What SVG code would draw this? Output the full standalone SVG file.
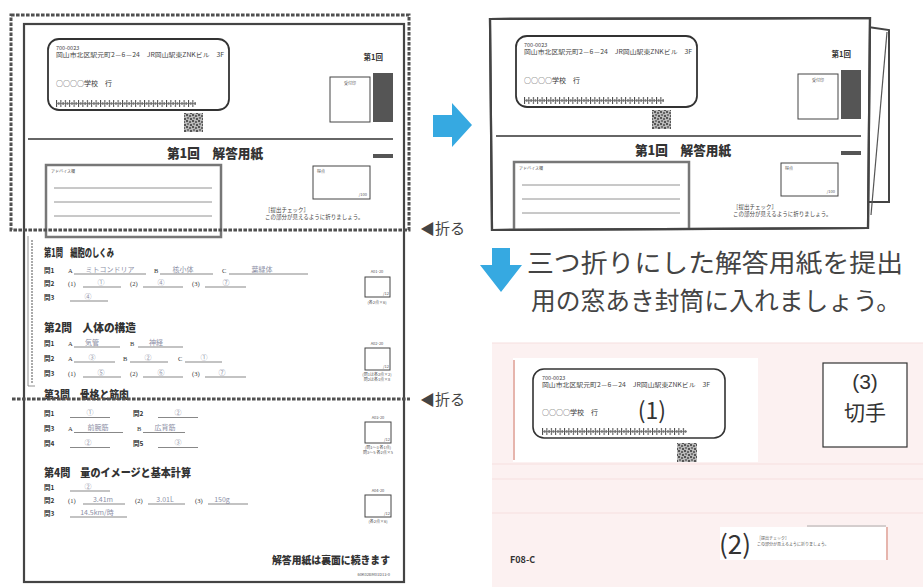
<svg xmlns="http://www.w3.org/2000/svg" xmlns:xlink="http://www.w3.org/1999/xlink" width="923" height="587" viewBox="0 0 923 587">
<style>
text{font-family:"Noto Sans CJK JP","Noto Sans",sans-serif}
.s4{font-size:4px;fill:#555}
.s5{font-size:5.5px;fill:#444}
.s7{font-size:7px;fill:#333}
.b7{font-size:7.5px;font-weight:bold;fill:#333}
.ttl{font-size:13px;font-weight:900;fill:#333}
.sec{font-size:11px;font-weight:900;fill:#333}
.q{font-size:6.5px;font-weight:bold;fill:#333}
.lab{font-size:6.5px;fill:#333;font-family:"Liberation Serif",serif}
.hw{font-size:7px;fill:#8c8fa6}
.ul{stroke:#555;stroke-width:0.7}
.sb{fill:none;stroke:#444;stroke-width:1}
.cap{font-size:25.5px;fill:#444}
.fold{font-size:15px;fill:#444}
.big{font-size:21px;fill:#333;font-family:"Liberation Sans","Noto Sans CJK JP",sans-serif}
.blue{fill:#36a9e1}
.dash{fill:none;stroke:#505050;stroke-width:3;stroke-dasharray:3.6 1.4}
</style>
<defs>
<pattern id="bc" width="4.4" height="7" patternUnits="userSpaceOnUse">
<rect x="0" y="0" width="1" height="7" fill="#444"/>
<rect x="2.2" y="2" width="1" height="3" fill="#444"/>
<rect x="0" y="3" width="4.4" height="0.7" fill="#666"/>
</pattern>
<pattern id="qr" width="6" height="6" patternUnits="userSpaceOnUse">
<rect width="6" height="6" fill="#b8b8b8"/>
<rect x="0" y="0" width="2" height="2" fill="#555"/>
<rect x="3" y="1" width="2" height="2" fill="#666"/>
<rect x="1" y="3" width="2" height="2" fill="#777"/>
<rect x="4" y="4" width="2" height="2" fill="#555"/>
</pattern>
<clipPath id="clipR"><polygon points="490,19 870,18 868,228 492,230"/></clipPath>
<g id="sheet-top">
<rect x="48" y="39" width="181" height="71" rx="11" fill="none" stroke="#333" stroke-width="1.8"/>
<text x="56" y="50" class="s5">700-0023</text>
<text x="56" y="57" class="s5" textLength="168" lengthAdjust="spacingAndGlyphs">岡山市北区駅元町2－6－24　JR岡山駅東ZNKビル　3F</text>
<text x="56" y="86" class="s7">○○○○学校　行</text>
<g transform="translate(56,100)"><rect width="140" height="7" fill="url(#bc)"/></g>
<rect x="184" y="113" width="19" height="19" fill="url(#qr)"/>
<text x="383" y="60" class="b7" text-anchor="end">第1回</text>
<rect x="330" y="77" width="40" height="45" class="sb"/>
<text x="350" y="85" class="s4" text-anchor="middle">受付印</text>
<rect x="373" y="73" width="20" height="49" fill="#555"/>
<line x1="28" y1="139" x2="393" y2="139" stroke="#333" stroke-width="1.5"/>
<text x="167" y="158" class="ttl" textLength="96" lengthAdjust="spacingAndGlyphs">第1回　解答用紙</text>
<rect x="373" y="154" width="20" height="4" fill="#555"/>
<rect x="46" y="165" width="175" height="72" fill="none" stroke="#777" stroke-width="2.5"/>
<text x="51" y="173" class="s4">アドバイス欄</text>
<g stroke="#777" stroke-width="0.8"><line x1="54" y1="188" x2="212" y2="188"/><line x1="54" y1="202" x2="212" y2="202"/><line x1="54" y1="216" x2="212" y2="216"/></g>
<rect x="313" y="166" width="57" height="33" class="sb"/>
<text x="317" y="173" class="s4">得点</text>
<text x="367" y="196" class="s4" text-anchor="end">/100</text>
<text x="265" y="212" class="s5">［提出チェック］</text>
<text x="265" y="219" class="s5">この部分が見えるように折りましょう。</text>
</g>
</defs>

<g id="left-sheet">
<rect x="24" y="24" width="380" height="558" fill="#fff" stroke="#444" stroke-width="2.2"/>
<use xlink:href="#sheet-top" href="#sheet-top"/>
<line x1="28" y1="236" x2="28" y2="386" stroke="#777" stroke-width="0.8"/>
<line x1="32" y1="240" x2="32" y2="384" stroke="#aaa" stroke-width="2" stroke-dasharray="2 1"/>
<line x1="28" y1="386" x2="35" y2="386" stroke="#777" stroke-width="0.8"/>

<g id="q1">
<text x="44" y="257" class="sec" textLength="70" lengthAdjust="spacingAndGlyphs">第1問　細胞のしくみ</text>
<text x="44" y="272.5" class="q">問1</text>
<text x="68" y="272.5" class="lab">A</text><line x1="74" y1="274" x2="146" y2="274" class="ul"/><text x="110" y="272" class="hw" text-anchor="middle">ミトコンドリア</text>
<text x="154" y="272.5" class="lab">B</text><line x1="160" y1="274" x2="213" y2="274" class="ul"/><text x="183" y="272" class="hw" text-anchor="middle">核小体</text>
<text x="222" y="272.5" class="lab">C</text><line x1="229" y1="274" x2="308" y2="274" class="ul"/><text x="262" y="272" class="hw" text-anchor="middle">葉緑体</text>
<text x="44" y="285.5" class="q">問2</text>
<text x="68" y="285.5" class="lab">(1)</text><line x1="83" y1="287" x2="121" y2="287" class="ul"/><text x="101" y="285" class="hw" text-anchor="middle">①</text>
<text x="130" y="285.5" class="lab">(2)</text><line x1="143" y1="287" x2="183" y2="287" class="ul"/><text x="161" y="285" class="hw" text-anchor="middle">④</text>
<text x="192" y="285.5" class="lab">(3)</text><line x1="205" y1="287" x2="246" y2="287" class="ul"/><text x="226" y="285" class="hw" text-anchor="middle">⑦</text>
<text x="44" y="299.5" class="q">問3</text>
<line x1="70" y1="301" x2="108" y2="301" class="ul"/><text x="88" y="299" class="hw" text-anchor="middle">④</text>
<text x="377" y="273" class="s4" text-anchor="middle">A01-20</text>
<rect x="365" y="277" width="25" height="20" class="sb"/>
<text x="389" y="295" class="s4" text-anchor="end">/12</text>
<text x="377" y="304" class="s4" text-anchor="middle">(各2点×6)</text>
</g>

<g id="q2">
<text x="44" y="332" class="sec" textLength="92" lengthAdjust="spacingAndGlyphs">第2問　人体の構造</text>
<text x="44" y="345.5" class="q">問1</text>
<text x="68" y="345.5" class="lab">A</text><line x1="74" y1="347" x2="120" y2="347" class="ul"/><text x="92" y="345" class="hw" text-anchor="middle">気管</text>
<text x="130" y="345.5" class="lab">B</text><line x1="138" y1="347" x2="183" y2="347" class="ul"/><text x="156" y="345" class="hw" text-anchor="middle">神経</text>
<text x="44" y="360.5" class="q">問2</text>
<text x="68" y="360.5" class="lab">A</text><line x1="74" y1="362" x2="115" y2="362" class="ul"/><text x="92" y="360" class="hw" text-anchor="middle">③</text>
<text x="123" y="360.5" class="lab">B</text><line x1="130" y1="362" x2="168" y2="362" class="ul"/><text x="148" y="360" class="hw" text-anchor="middle">②</text>
<text x="178" y="360.5" class="lab">C</text><line x1="185" y1="362" x2="222" y2="362" class="ul"/><text x="204" y="360" class="hw" text-anchor="middle">①</text>
<text x="44" y="375.5" class="q">問3</text>
<text x="68" y="375.5" class="lab">(1)</text><line x1="83" y1="377" x2="121" y2="377" class="ul"/><text x="101" y="375" class="hw" text-anchor="middle">⑤</text>
<text x="130" y="375.5" class="lab">(2)</text><line x1="143" y1="377" x2="183" y2="377" class="ul"/><text x="161" y="375" class="hw" text-anchor="middle">⑥</text>
<text x="192" y="375.5" class="lab">(3)</text><line x1="205" y1="377" x2="246" y2="377" class="ul"/><text x="222" y="375" class="hw" text-anchor="middle">⑦</text>
<text x="377" y="345" class="s4" text-anchor="middle">A02-20</text>
<rect x="365" y="348" width="25" height="22" class="sb"/>
<text x="389" y="368" class="s4" text-anchor="end">/12</text>
<text x="377" y="376" class="s4" text-anchor="middle">(問1は各2点×2)</text>
<text x="377" y="381" class="s4" text-anchor="middle">問2は各1点×8</text>
</g>

<g id="q3">
<text x="44" y="399" class="sec" textLength="85" lengthAdjust="spacingAndGlyphs">第3問　骨格と筋肉</text>
<text x="44" y="416" class="q">問1</text>
<line x1="70" y1="417.5" x2="110" y2="417.5" class="ul"/><text x="90" y="415" class="hw" text-anchor="middle">①</text>
<text x="133" y="416" class="q">問2</text>
<line x1="158" y1="417.5" x2="198" y2="417.5" class="ul"/><text x="178" y="415" class="hw" text-anchor="middle">②</text>
<text x="44" y="431" class="q">問3</text>
<text x="68" y="431" class="lab">A</text><line x1="74" y1="432.5" x2="123" y2="432.5" class="ul"/><text x="98" y="430" class="hw" text-anchor="middle">前腕筋</text>
<text x="137" y="431" class="lab">B</text><line x1="143" y1="432.5" x2="185" y2="432.5" class="ul"/><text x="165" y="430" class="hw" text-anchor="middle">広背筋</text>
<text x="44" y="446" class="q">問4</text>
<line x1="70" y1="447.5" x2="110" y2="447.5" class="ul"/><text x="88" y="445" class="hw" text-anchor="middle">②</text>
<text x="133" y="446" class="q">問5</text>
<line x1="158" y1="447.5" x2="198" y2="447.5" class="ul"/><text x="178" y="445" class="hw" text-anchor="middle">③</text>
<text x="378" y="419" class="s4" text-anchor="middle">A03-20</text>
<rect x="365" y="422" width="26" height="21" class="sb"/>
<text x="390" y="441" class="s4" text-anchor="end">/12</text>
<text x="378" y="449" class="s4" text-anchor="middle">(問1～3 各1点)</text>
<text x="378" y="454" class="s4" text-anchor="middle">問3～5 各2点×5</text>
</g>

<g id="q4">
<text x="44" y="477" class="sec" textLength="147" lengthAdjust="spacingAndGlyphs">第4問　量のイメージと基本計算</text>
<text x="44" y="489.5" class="q">問1</text>
<line x1="70" y1="491" x2="110" y2="491" class="ul"/><text x="88" y="489" class="hw" text-anchor="middle">②</text>
<text x="44" y="502.5" class="q">問2</text>
<text x="68" y="502.5" class="lab">(1)</text><line x1="83" y1="504" x2="125" y2="504" class="ul"/><text x="103" y="502" class="hw" text-anchor="middle">3.41m</text>
<text x="135" y="502.5" class="lab">(2)</text><line x1="148" y1="504" x2="185" y2="504" class="ul"/><text x="165" y="502" class="hw" text-anchor="middle">3.01L</text>
<text x="195" y="502.5" class="lab">(3)</text><line x1="208" y1="504" x2="248" y2="504" class="ul"/><text x="222" y="502" class="hw" text-anchor="middle">150g</text>
<text x="44" y="515.5" class="q">問3</text>
<line x1="70" y1="517" x2="127" y2="517" class="ul"/><text x="97" y="515" class="hw" text-anchor="middle">14.5km/時</text>
<text x="378" y="492" class="s4" text-anchor="middle">A04-20</text>
<rect x="365" y="495" width="26" height="22" class="sb"/>
<text x="390" y="515" class="s4" text-anchor="end">/12</text>
<text x="378" y="523" class="s4" text-anchor="middle">(各2点×6)</text>
</g>

<text x="390" y="564" font-size="10.5" font-weight="900" fill="#333" text-anchor="end" textLength="118" lengthAdjust="spacingAndGlyphs">解答用紙は裏面に続きます</text>
<text x="390" y="576" class="s4" text-anchor="end">60K02BM01D13-0</text>

<rect x="11" y="15" width="398" height="215" class="dash"/>
<line x1="12" y1="399" x2="410" y2="399" class="dash"/>
</g>

<g id="fold-labels">
<text x="420" y="234" class="fold">◀折る</text>
<text x="420" y="405" class="fold">◀折る</text>
</g>

<g id="connectors">
<polygon class="blue" points="433,115 452,115 452,103 472,125 452,147 452,137 433,137"/>
<polygon class="blue" points="492,248 510,248 510,265 522,265 501,292 480,265 492,265"/>
</g>

<g id="right-sheet">
<polygon points="868,27 889,30 889,202 868,202" fill="#fff" stroke="#444" stroke-width="2"/>
<line x1="887" y1="32" x2="871" y2="215" stroke="#555" stroke-width="1.2"/>
<polygon points="490,19 870,18 868,228 492,230" fill="#fff" stroke="#444" stroke-width="2.2"/>
<g clip-path="url(#clipR)">
<use xlink:href="#sheet-top" href="#sheet-top" transform="translate(468,-3)"/>
</g>
<polygon points="490,19 870,18 868,228 492,230" fill="none" stroke="#444" stroke-width="2.2"/>
</g>

<g id="caption">
<text x="527" y="272" class="cap" textLength="376" lengthAdjust="spacingAndGlyphs">三つ折りにした解答用紙を提出</text>
<text x="531" y="310" class="cap" textLength="370" lengthAdjust="spacingAndGlyphs">用の窓あき封筒に入れましょう。</text>
</g>

<g id="envelope">
<rect x="492" y="343" width="431" height="244" fill="#fcf1f1"/>
<g stroke="#f6e0e0" stroke-width="1.2">
<line x1="492" y1="464" x2="923" y2="464"/>
<line x1="492" y1="479" x2="923" y2="479"/>
<line x1="492" y1="513" x2="923" y2="513"/>
<line x1="492" y1="343" x2="923" y2="343"/>
</g>
<rect x="513" y="358" width="245" height="104" fill="#fff"/>
<line x1="514" y1="360" x2="514" y2="460" stroke="#e6b5ad" stroke-width="2"/>
<rect x="533" y="369" width="192" height="69" rx="11" fill="none" stroke="#333" stroke-width="1.6"/>
<text x="542" y="380" class="s5">700-0023</text>
<text x="542" y="387" class="s5" textLength="168" lengthAdjust="spacingAndGlyphs">岡山市北区駅元町2－6－24　JR岡山駅東ZNKビル　3F</text>
<text x="542" y="415" class="s7">○○○○学校　行</text>
<g transform="translate(542,428)"><rect width="145" height="7" fill="url(#bc)"/></g>
<text x="652" y="419" font-size="23" fill="#333" font-family="Liberation Sans, sans-serif" text-anchor="middle">(1)</text>
<rect x="677" y="443" width="20" height="19" fill="url(#qr)"/>
<rect x="823" y="363" width="84" height="84" fill="#fff" stroke="#333" stroke-width="1.2"/>
<text x="865" y="389" class="big" text-anchor="middle">(3)</text>
<text x="865" y="420" font-size="21" fill="#333" text-anchor="middle">切手</text>
<rect x="720" y="527" width="168" height="33" fill="#fff"/>
<line x1="807" y1="526" x2="886" y2="526" stroke="#999" stroke-width="0.8"/>
<line x1="887" y1="527" x2="887" y2="560" stroke="#e6b5ad" stroke-width="2"/>
<text x="735" y="554" font-size="26" fill="#333" text-anchor="middle" font-family="Liberation Sans, sans-serif">(2)</text>
<text x="757" y="540" class="s4">［提出チェック］</text>
<text x="757" y="546" class="s4">この部分が見えるように折りましょう。</text>
<text x="510" y="563" font-size="9" font-weight="bold" fill="#333" font-family="Liberation Sans, sans-serif">F08-C</text>
</g>
</svg>
